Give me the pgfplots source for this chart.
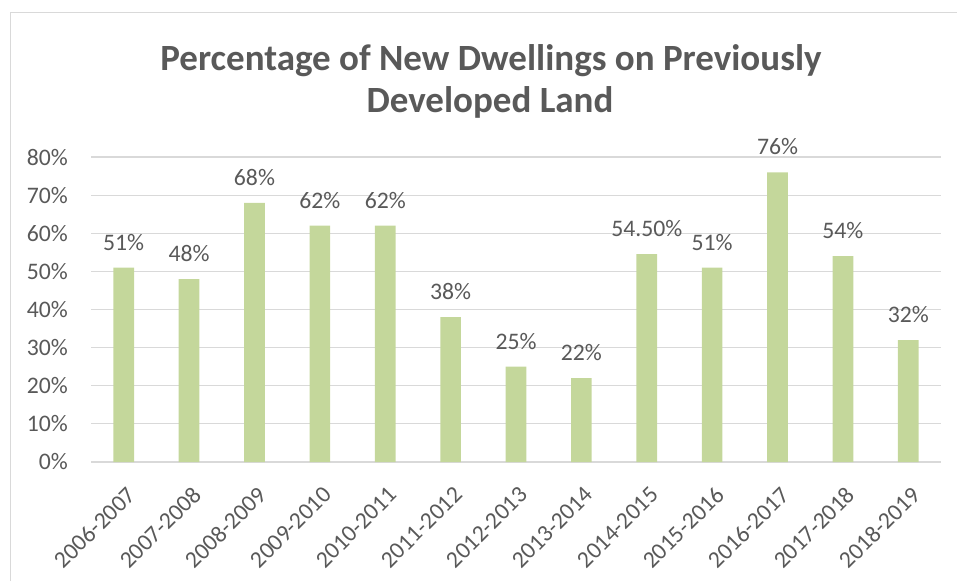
\documentclass[border=0pt]{standalone}
\usepackage{fontspec}
\setmainfont{Carlito}
\usepackage{pgfplots}
\usepackage{pgfplotstable}
\pgfplotsset{compat=1.18}
\definecolor{textgray}{HTML}{595959}
\definecolor{gridgray}{HTML}{D9D9D9}
\definecolor{barcol}{HTML}{C4D79B}
\pgfplotstableread{
x y label
0 51 51\%
1 48 48\%
2 68 68\%
3 62 62\%
4 62 62\%
5 38 38\%
6 25 25\%
7 22 22\%
8 54.5 54.50\%
9 51 51\%
10 76 76\%
11 54 54\%
12 32 32\%
}\datatable
\begin{document}
\begin{tikzpicture}
\useasboundingbox (0,0) rectangle (957pt,581pt);
\draw[gridgray, line width=1pt] (10pt,0) -- (10pt,568pt) -- (957pt,568pt);
\node[anchor=base, text=textgray, font=\fontsize{37}{44}\selectfont\bfseries] at (491pt,510pt) {Percentage of New Dwellings on Previously};
\node[anchor=base, text=textgray, font=\fontsize{37}{44}\selectfont\bfseries] at (490pt,468pt) {Developed Land};
\begin{axis}[
  at={(91pt,119pt)}, anchor=south west,
  width=850pt, height=305pt, scale only axis,
  xmin=-0.5, xmax=12.5, ymin=0, ymax=80,
  axis line style={draw=none},
  major tick length=0pt,
  ymajorgrids, grid style={gridgray, line width=1.2pt},
  ytick={0,10,20,30,40,50,60,70,80},
  yticklabels={0\%,10\%,20\%,30\%,40\%,50\%,60\%,70\%,80\%},
  xtick={0,1,2,3,4,5,6,7,8,9,10,11,12},
  xticklabels={2006-2007,2007-2008,2008-2009,2009-2010,2010-2011,2011-2012,2012-2013,2013-2014,2014-2015,2015-2016,2016-2017,2017-2018,2018-2019},
  tick label style={font=\fontsize{23.7}{28}\selectfont, text=textgray, inner sep=0pt},
  yticklabel style={anchor=east, xshift=-23pt},
  xticklabel style={xshift=2pt, yshift=-23pt, rotate=45, anchor=north east},
  ybar, bar width=0.316,
  nodes near coords, point meta=explicit symbolic,
  every node near coord/.append style={anchor=base, yshift=17.5pt, inner sep=0pt, font=\fontsize{23.7}{28}\selectfont, text=textgray},
  clip=false,
]
\addplot[fill=barcol, draw=none] table[x=x, y=y, meta=label] {\datatable};
\end{axis}
\end{tikzpicture}
\end{document}
